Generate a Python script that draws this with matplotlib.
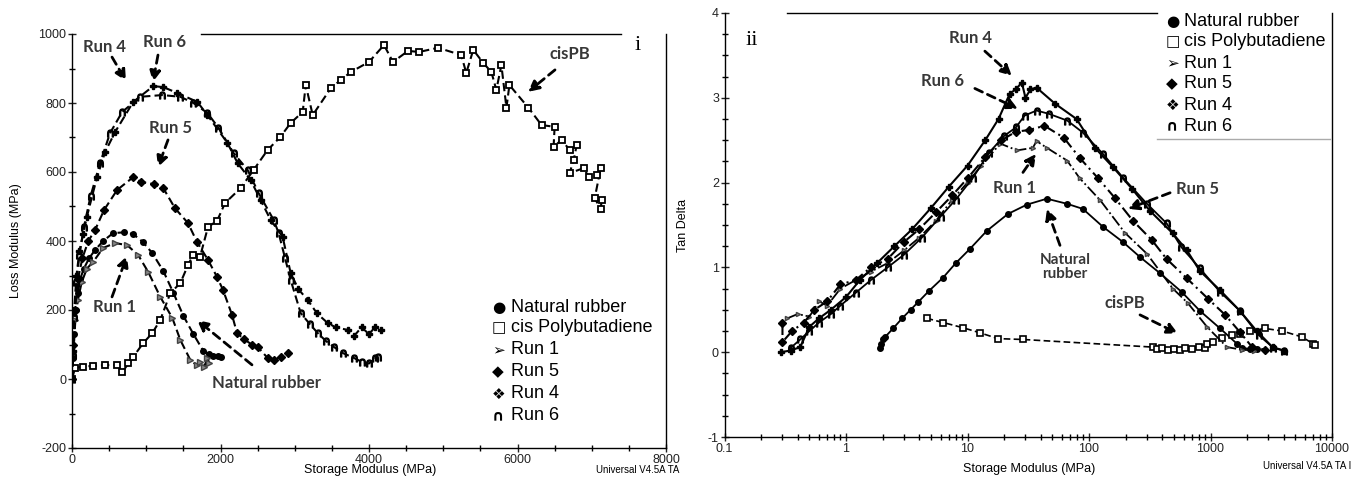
import matplotlib
matplotlib.use('Agg')
import matplotlib.pyplot as plt
from matplotlib.lines import Line2D

plt.rcParams['font.family'] = ['Liberation Sans', 'DejaVu Sans']
plt.rcParams['axes.unicode_minus'] = False

# ---------------- panel i : loss modulus vs storage modulus ----------------
nr_x_l = [0, 15, 30, 50, 80, 110, 160, 230, 311, 420, 554, 700, 824, 950, 1081, 1230, 1365, 1500, 1635, 1770, 1850, 1900, 1960, 2000]
nr_y_l = [0, 60, 130, 200, 250, 290, 320, 350, 374, 400, 423, 425, 420, 398, 365, 313, 250, 183, 130, 81, 72, 68, 67, 65]

pb_x_l = [0, 41, 150, 284, 450, 608, 676, 760, 824, 959, 1081, 1189, 1324, 1459, 1562, 1630, 1724, 1832, 1953, 2061, 2270, 2446, 2635,
          2800, 2945, 3107, 3148, 3242, 3486, 3621, 3756, 4000, 4202, 4323, 4526, 4675, 4931, 5242, 5310, 5404, 5539, 5648, 5715,
          5783, 5851, 5891, 6148, 6324, 6500, 6486, 6594, 6702, 6797, 6757, 6702, 6891, 6959, 7066, 7120, 7040, 7120, 7134]
pb_y_l = [0, 32, 36, 38, 40, 41, 20, 45, 64, 104, 133, 171, 249, 278, 330, 359, 354, 441, 458, 510, 553, 606, 664,
          700, 742, 774, 852, 765, 843, 867, 890, 919, 968, 919, 951, 948, 960, 939, 887, 954, 916, 890, 838,
          910, 786, 852, 786, 736, 731, 673, 693, 664, 678, 635, 597, 611, 586, 591, 611, 524, 493, 519]

r1_x_l = [0, 20, 45, 80, 130, 200, 284, 419, 581, 743, 892, 1027, 1189, 1351, 1459, 1594, 1680, 1730, 1780, 1824, 1850]
r1_y_l = [0, 80, 170, 230, 280, 320, 339, 380, 394, 388, 359, 310, 238, 177, 113, 55, 40, 49, 35, 61, 45]

r5_x_l = [0, 15, 40, 80, 140, 220, 311, 432, 608, 824, 932, 1100, 1230, 1387, 1562, 1684, 1832, 1953, 2034, 2155, 2222,
          2320, 2420, 2500, 2635, 2720, 2810, 2905]
r5_y_l = [0, 100, 200, 290, 350, 400, 432, 490, 548, 585, 571, 565, 553, 495, 452, 397, 345, 296, 258, 186, 133,
          115, 100, 93, 61, 55, 64, 75]

r4_x_l = [0, 10, 30, 60, 100, 150, 200, 338, 446, 581, 824, 1095, 1230, 1419, 1689, 1824, 2094, 2230, 2405, 2540, 2675,
          2837, 2945, 3050, 3175, 3300, 3445, 3550, 3716, 3800, 3900, 4000, 4080, 4160]
r4_y_l = [0, 80, 200, 300, 370, 420, 470, 586, 658, 716, 803, 849, 846, 829, 803, 765, 684, 626, 577, 519, 461,
          412, 307, 260, 229, 190, 162, 150, 142, 125, 150, 130, 150, 142]

r6_x_l = [0, 10, 30, 60, 100, 160, 250, 378, 513, 676, 919, 1216, 1459, 1635, 1824, 1973, 2176, 2365, 2513, 2716, 2783,
          2870, 2945, 3080, 3200, 3310, 3420, 3526, 3650, 3797, 3900, 4000, 4080, 4120]
r6_y_l = [0, 70, 180, 280, 360, 440, 530, 626, 713, 774, 818, 823, 818, 800, 771, 728, 655, 606, 539, 461, 423,
          350, 287, 191, 160, 133, 110, 93, 75, 61, 50, 45, 60, 64]

# ---------------- panel ii : tan delta vs storage modulus ----------------
nr_x_r = [1.9, 1.95, 2.0, 2.1, 2.44, 2.9, 3.4, 3.92, 4.8, 6.3, 8.0, 10.5, 14.4, 21.5, 30.8, 45, 66, 89, 130, 190, 264,
          385, 580, 815, 1200, 1650, 1800, 2100, 2400]
nr_y_r = [0.05, 0.1, 0.15, 0.18, 0.28, 0.40, 0.50, 0.59, 0.72, 0.88, 1.05, 1.22, 1.43, 1.63, 1.74, 1.81, 1.75, 1.69, 1.48,
          1.30, 1.12, 0.93, 0.71, 0.49, 0.28, 0.10, 0.05, 0.04, 0.04]

pb_x_r = [4.6, 6.3, 9.1, 12.6, 17.8, 28.7, 337, 360, 400, 450, 500, 560, 620, 700, 800, 900, 940, 1050, 1240, 1500, 1740,
          2100, 2800, 3900, 5650, 7000, 7300]
pb_y_r = [0.40, 0.35, 0.29, 0.23, 0.16, 0.15, 0.06, 0.04, 0.05, 0.03, 0.04, 0.03, 0.05, 0.04, 0.06, 0.05, 0.10, 0.12, 0.17,
          0.20, 0.22, 0.25, 0.28, 0.25, 0.18, 0.10, 0.08]

r1_x_r = [0.33, 0.4, 0.5, 0.6, 0.7, 0.9, 1.2, 1.6, 2.2, 3.0, 4.0, 5.5, 7.5, 10, 13, 18.6, 25.6, 34.5, 37, 45, 66, 84, 124,
          197, 300, 490, 650, 935, 1365, 1800, 2300]
r1_y_r = [0.40, 0.45, 0.42, 0.60, 0.55, 0.75, 0.85, 0.95, 1.05, 1.2, 1.35, 1.55, 1.8, 2.0, 2.2, 2.46, 2.38, 2.41, 2.49, 2.41,
          2.26, 2.05, 1.79, 1.41, 1.16, 0.75, 0.58, 0.30, 0.06, 0.03, 0.02]

r5_x_r = [0.3, 0.3, 0.36, 0.45, 0.55, 0.7, 0.9, 1.2, 1.6, 2.2, 3.0, 4.0, 5.5, 7.5, 10, 14, 19, 25, 32, 43, 62, 84, 119, 163,
          230, 330, 435, 640, 955, 1320, 1740, 2200, 2800]
r5_y_r = [0.35, 0.12, 0.25, 0.35, 0.5, 0.6, 0.8, 0.85, 1.0, 1.1, 1.3, 1.45, 1.65, 1.85, 2.05, 2.3, 2.5, 2.6, 2.62, 2.67, 2.53,
          2.29, 2.05, 1.82, 1.55, 1.32, 1.10, 0.87, 0.63, 0.44, 0.24, 0.06, 0.03]

r4_x_r = [0.29, 0.35, 0.42, 0.5, 0.6, 0.75, 1.0, 1.3, 1.8, 2.5, 3.5, 5.0, 7.0, 10, 14, 18, 22.3, 25, 28, 30, 33, 37, 52.6,
          79, 112, 158, 225, 316, 490, 640, 815, 1200, 1740, 2400, 3240, 4000]
r4_y_r = [0.0, 0.02, 0.06, 0.3, 0.4, 0.5, 0.65, 0.85, 1.05, 1.25, 1.45, 1.7, 1.95, 2.2, 2.5, 2.75, 3.05, 3.1, 3.18, 3.0,
          3.1, 3.12, 2.93, 2.75, 2.41, 2.18, 1.93, 1.67, 1.40, 1.20, 0.96, 0.73, 0.49, 0.25, 0.06, 0.02]

r6_x_r = [0.35, 0.42, 0.5, 0.6, 0.75, 0.9, 1.2, 1.6, 2.2, 3.0, 4.2, 6.0, 8.0, 11, 15, 20, 25, 29.5, 37, 47, 66.5, 89, 130,
          190, 300, 435, 575, 815, 1200, 1740, 2500, 3300, 4000]
r6_y_r = [0.05, 0.15, 0.25, 0.35, 0.45, 0.55, 0.7, 0.85, 1.0, 1.15, 1.35, 1.6, 1.8, 2.05, 2.35, 2.55, 2.65, 2.79, 2.85, 2.81,
          2.73, 2.59, 2.34, 2.06, 1.75, 1.52, 1.24, 0.99, 0.71, 0.49, 0.2, 0.05, 0.02]

legend_symbols = ['\u25cf', '\u25a1', '\u27a2', '\u25c6', '\u2756', '\u2229']
legend_labels = ['Natural rubber', 'cis Polybutadiene', 'Run 1', 'Run 5', 'Run 4', 'Run 6']

W, H = 1364, 478
fig = plt.figure(figsize=(W / 100, H / 100), dpi=100)

def px_axes(x0, y0, x1, y1):
    return fig.add_axes([x0 / W, 1 - y1 / H, (x1 - x0) / W, (y1 - y0) / H])

ax1 = px_axes(72, 34, 666, 448)
ax2 = px_axes(724.5, 13, 1332, 437)

dash = (0, (4, 2))
k = 'black'

# panel i
ax1.plot(nr_x_l, nr_y_l, ls=dash, color=k, lw=1.5, marker='o', ms=4)
ax1.plot(pb_x_l, pb_y_l, ls=dash, color=k, lw=1.5, marker='s', ms=5, mfc='white', mew=1.3)
ax1.plot(r1_x_l, r1_y_l, ls=dash, color=k, lw=1.5, marker='>', ms=4, mfc='#888888', mec='#444444')
ax1.plot(r5_x_l, r5_y_l, ls=dash, color=k, lw=1.5, marker='D', ms=4)
ax1.plot(r4_x_l, r4_y_l, ls=dash, color=k, lw=1.5, marker='P', ms=4)
ax1.plot(r6_x_l, r6_y_l, ls=dash, color=k, lw=1.5, marker='$\\cap$', ms=5)

ax1.set_xlim(0, 8000)
ax1.set_ylim(-200, 1000)
ax1.set_xticks([0, 2000, 4000, 6000, 8000])
ax1.set_xticks(range(0, 8001, 500), minor=True)
ax1.set_yticks(range(-200, 1001, 200))
ax1.set_yticks(range(-200, 1001, 100), minor=True)
ax1.spines['top'].set_bounds(1740, 7400)

# panel ii
ax2.plot(nr_x_r, nr_y_r, ls='-', color=k, lw=1.3, marker='o', ms=4)
ax2.plot(pb_x_r, pb_y_r, ls=dash, color=k, lw=1.2, marker='s', ms=5, mfc='white', mew=1.2)
ax2.plot(r1_x_r, r1_y_r, ls='-.', color=k, lw=1.3, marker='>', ms=3, mfc='#888888', mec='#444444')
ax2.plot(r5_x_r, r5_y_r, ls=(0, (6, 2, 1, 2)), color=k, lw=1.5, marker='D', ms=4)
ax2.plot(r4_x_r, r4_y_r, ls='-', color=k, lw=1.5, marker='P', ms=4)
ax2.plot(r6_x_r, r6_y_r, ls='-', color=k, lw=1.3, marker='$\\cap$', ms=5)

ax2.set_xscale('log')
ax2.set_xlim(0.1, 10000)
ax2.set_ylim(-1, 4)
ax2.set_xticks([0.1, 1, 10, 100, 1000, 10000])
ax2.set_xticklabels(['0.1', '1', '10', '100', '1000', '10000'])
ax2.set_yticks(range(-1, 5))
ax2.set_yticks([v / 4 for v in range(-4, 17)], minor=True)
ax2.spines['top'].set_bounds(0.327, 363)

for ax in (ax1, ax2):
    ax.tick_params(which='major', direction='inout', length=6, width=1, labelsize=9, colors='#222222', pad=1)
    ax.tick_params(which='minor', direction='inout', length=4, width=1)
    for s in ax.spines.values():
        s.set_linewidth(1)

ax1.set_ylabel('Loss Modulus (MPa)', fontsize=9, labelpad=12)
ax2.set_ylabel('Tan Delta', fontsize=9, labelpad=14)

fig.text(370 / W, 1 - 470 / H, 'Storage Modulus (MPa)', fontsize=9, ha='center', va='center')
fig.text(1029 / W, 1 - 469 / H, 'Storage Modulus (MPa)', fontsize=9, ha='center', va='center')
fig.text(596 / W, 1 - 470 / H, 'Universal V4.5A TA', fontsize=7, ha='left', va='center')
fig.text(1263 / W, 1 - 466 / H, 'Universal V4.5A TA I', fontsize=7, ha='left', va='center')

# annotations
lab = dict(fontsize=12, fontweight='bold', color='#383838', family=['Lato', 'DejaVu Sans'], ha='center', va='center')
arr = dict(arrowstyle='-|>', color='black', lw=2, linestyle=(0, (3, 2)), mutation_scale=16, shrinkA=0, shrinkB=0)

def note(ax, text, txy, tail, head):
    ax.text(txy[0], txy[1], text, **lab)
    ax.annotate('', xy=head, xytext=tail, arrowprops=arr)

note(ax1, 'Run 4', (444, 962), (539, 933), (727, 864))
note(ax1, 'Run 6', (1252, 977), (1158, 939), (1091, 861))
note(ax1, 'Run 5', (1320, 728), (1293, 693), (1158, 614))
note(ax1, 'Run 1', (579, 209), (539, 238), (741, 357))
note(ax1, 'Natural rubber', (2626, -12), (2424, 41), (1684, 171))
note(ax1, 'cisPB', (6707, 942), (6505, 896), (6141, 832))
ax1.text(7623, 968, 'i', fontsize=16, family='Liberation Serif', ha='center', va='center')

note(ax2, 'Run 4', (10.5, 3.71), (13.9, 3.55), (23.2, 3.26))
note(ax2, 'Run 6', (6.28, 3.2), (11.5, 3.11), (26, 2.87))
note(ax2, 'Run 1', (24.6, 1.94), (28.6, 2.12), (36.6, 2.34))
note(ax2, 'Run 5', (789, 1.93), (465, 1.88), (209, 1.69))
ax2.text(63.4, 1.01, 'Natural\nrubber', fontsize=11, fontweight='bold', color='#383838',
         family=['Lato', 'DejaVu Sans'], ha='center', va='center', linespacing=1.0)
ax2.annotate('', xy=(45, 1.69), xytext=(57.7, 1.26), arrowprops=arr)
note(ax2, 'cisPB', (198, 0.58), (263, 0.44), (540, 0.22))
ax2.text(0.168, 3.67, 'ii', fontsize=16, family='Liberation Serif', ha='center', va='center')

# legends drawn as text lines (symbol + label)
rows_l = [307, 328, 350, 372, 394, 416]
rows_r = [21, 42, 63, 84, 105, 126]
for sym, lbl, yl, yr in zip(legend_symbols, legend_labels, rows_l, rows_r):
    w = 'bold' if sym in ('\u25a1', '\u2229') else 'normal'
    for xs, xt, yy in ((492, 511, yl), (1166, 1184, yr)):
        fig.text(xs / W, 1 - yy / H, sym, fontsize=11, ha='left', va='center', color='black',
                 family=['DejaVu Sans'], fontweight=w)
        fig.text(xt / W, 1 - yy / H, lbl, fontsize=13, ha='left', va='center', color='black')

fig.add_artist(Line2D([1157 / W, 1330 / W], [1 - 139 / H, 1 - 139 / H], color='#aaaaaa', lw=1))

fig.savefig('out.png', dpi=100)
